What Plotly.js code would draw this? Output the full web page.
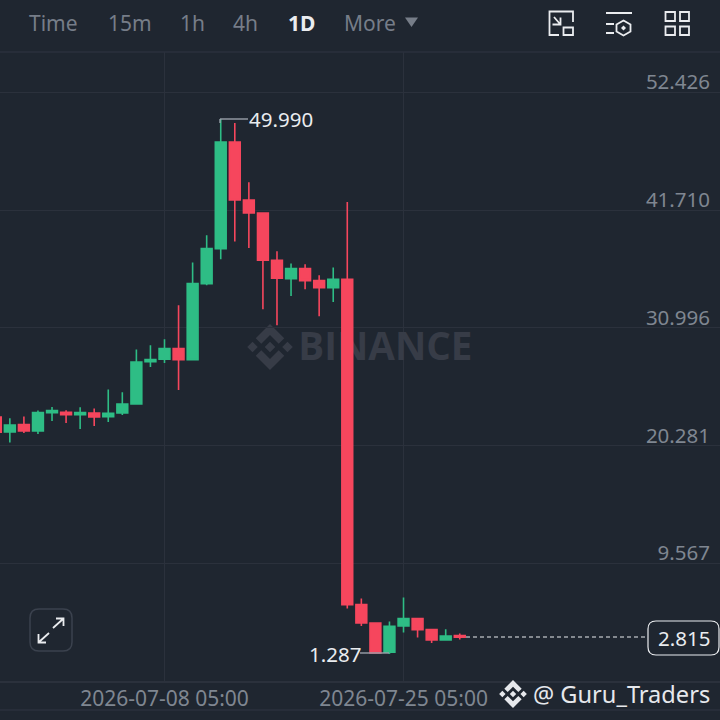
<!DOCTYPE html>
<html>
<head>
<meta charset="utf-8">
<script src="https://cdn.plot.ly/plotly-3.0.1.min.js"></script>
<style>html,body{margin:0;padding:0;background:#1f2630}#c{width:720px;height:720px}</style>
</head>
<body>
<div id="c"></div>
<script>
const dates = ["2026-06-26","2026-06-27","2026-06-28","2026-06-29","2026-06-30","2026-07-01","2026-07-02","2026-07-03","2026-07-04","2026-07-05","2026-07-06","2026-07-07","2026-07-08","2026-07-09","2026-07-10","2026-07-11","2026-07-12","2026-07-13","2026-07-14","2026-07-15","2026-07-16","2026-07-17","2026-07-18","2026-07-19","2026-07-20","2026-07-21","2026-07-22","2026-07-23","2026-07-24","2026-07-25","2026-07-26","2026-07-27","2026-07-28","2026-07-29"];
const opens = [22.868,21.503,22.177,21.594,23.269,23.296,23.087,23.233,22.905,23.233,24.052,27.911,28.121,29.095,28.093,35.012,38.198,47.902,42.622,41.439,37.133,35.467,36.377,35.285,34.648,35.403,5.791,4.116,1.449,3.843,4.517,3.515,2.569,2.969];
const highs = [22.95,22.75,22.905,23.451,23.779,23.478,23.752,23.633,25.363,25.117,29.004,29.395,29.942,33.037,36.924,39.409,49.99,49.631,44.233,41.502,37.952,36.832,36.769,35.768,36.468,42.44,6.337,4.17,4.243,6.429,4.55,3.57,3.543,3.151];
const lows = [21.4,20.538,21.412,21.321,22.504,22.322,21.776,22.049,22.413,23.05,24.025,27.42,27.784,25.326,28.03,34.857,37.224,38.835,38.253,32.672,31.216,33.883,34.493,32.035,33.337,5.427,3.843,1.33,1.287,3.242,2.787,2.296,2.54,2.606];
const closes = [21.476,22.14,21.594,23.269,23.451,23.087,23.269,22.868,23.205,24.052,27.875,28.093,29.095,28.093,35.012,38.198,47.902,42.622,41.439,37.133,35.494,36.377,35.285,34.648,35.403,5.791,4.116,1.386,3.816,4.517,3.515,2.569,2.933,2.815];
const priceTicks = [52.426,41.710,30.996,20.281,9.567];
const priceLabels = ["52.426","41.710","30.996","20.281","9.567"];
const dateTicks = ["2026-07-08 05:00","2026-07-25 05:00"];
const menu = [["Time",28],["15m",107],["1h",179],["4h",232],["More",343]];
const lastPrice = 2.815, highPrice = 49.990, lowPrice = 1.287;

const W=720, TOP=52, BOT=681;
const DAY=86400000, PXDAY=14.06;
const t0=Date.UTC(2026,6,8,5);
const iso=t=>new Date(t).toISOString().slice(0,19).replace('T',' ');
const xRange=[iso(t0-164.5/PXDAY*DAY),iso(t0+(720-164.5)/PXDAY*DAY)];
const yRange=[-1.165,56.093];
const BG='#1f2630', GRID='#2b313c', GREY='#7f8691', WHITE='#eaecef';
const FONT='"Noto Sans", sans-serif';
const px=x=>x/W, py=y=>(BOT-y)/(BOT-TOP);
const conv=s=>s.replace(/(-?[\d.]+) (-?[\d.]+)/g,(m,a,b)=>px(+a).toFixed(5)+' '+py(+b).toFixed(5));
const pshape=(d,opt)=>Object.assign({type:'path',xref:'paper',yref:'paper',path:conv(d),line:{width:0},layer:'above'},opt||{});
const stroke=(d,c,w)=>pshape(d,{line:{color:c,width:w}});
const fill=(d,c,layer)=>pshape(d,{fillcolor:c,layer:layer||'above'});
function rrect(x0,y0,x1,y1,r){return `M ${x0+r} ${y0} L ${x1-r} ${y0} Q ${x1} ${y0} ${x1} ${y0+r} L ${x1} ${y1-r} Q ${x1} ${y1} ${x1-r} ${y1} L ${x0+r} ${y1} Q ${x0} ${y1} ${x0} ${y1-r} L ${x0} ${y0+r} Q ${x0} ${y0} ${x0+r} ${y0} Z`;}
function logo(cx,cy,r){
  const p=a=>'M '+a.map(q=>(cx+q[0]*r)+' '+(cy+q[1]*r)).join(' L ')+' Z ';
  const d=(x,h)=>p([[x,-h],[x+h,0],[x,h],[x-h,0]]);
  return d(0,.23)+d(-.76,.23)+d(.76,.23)
   +p([[0,-1],[.62,-.38],[.38,-.14],[0,-.52],[-.38,-.14],[-.62,-.38]])
   +p([[0,1],[.62,.38],[.38,.14],[0,.52],[-.38,.14],[-.62,.38]]);
}
const lab=(text,x,y,size,color,anchor,extra)=>Object.assign({text,xref:'paper',yref:'paper',x:px(x),y:py(y),xanchor:anchor||'left',yanchor:'middle',showarrow:false,font:{family:FONT,size,color},borderpad:0},extra||{});

const shapes=[
  {type:'line',xref:'paper',yref:'paper',x0:0,x1:1,y0:py(TOP),y1:py(TOP),line:{color:GRID,width:1.5}},
  {type:'line',xref:'paper',yref:'paper',x0:0,x1:1,y0:py(710),y1:py(710),line:{color:GRID,width:1.5}},
  fill(logo(270,347,23),'#373c47','below'),
  stroke('M 220 119 L 248 119','#9aa0aa',1.4),
  stroke('M 220 119 L 220 123','#9aa0aa',1.4),
  stroke('M 360 653 L 389 653','#9aa0aa',1.4),
  {type:'line',xref:'paper',yref:'paper',x0:px(466),x1:px(648),y0:py(637),y1:py(637),line:{color:'#eaecef',width:1,dash:'4px 3px'}},
  pshape(rrect(648,621,719,655,8),{fillcolor:BG,line:{color:'#eaecef',width:1.2}}),
  pshape(rrect(30,609,72,651,9),{line:{color:'#3b424e',width:1.5}}),
  stroke('M 53 628 L 63 619 M 56 618.5 L 63.5 618.5 L 63.5 626','#eaecef',1.8),
  stroke('M 49 633 L 39 642 M 38.5 634 L 38.5 642.5 L 46 642.5','#eaecef',1.8),
  fill('M 405 17.5 L 418 17.5 L 411.5 27 Z','#767d88'),
  stroke('M 573 22 L 573 11.5 L 549.5 11.5 L 549.5 35 L 559 35','#eaecef',1.8),
  stroke('M 563.5 27.5 L 573 27.5 L 573 35 L 563.5 35 Z','#eaecef',1.8),
  stroke('M 554 17 L 560 24 M 552.5 24.5 L 560.5 24.5 L 560.5 17.5','#eaecef',1.8),
  stroke('M 606 13 L 632 13 M 606 24 L 614 24 M 606 33 L 614 33','#eaecef',1.8),
  stroke('M 623.5 20.5 L 630.5 24.5 L 630.5 31.5 L 623.5 35.5 L 616.5 31.5 L 616.5 24.5 Z','#eaecef',1.8),
  fill('M 623.5 25.5 L 626 28 L 623.5 30.5 L 621 28 Z','#eaecef'),
  stroke('M 665.5 12 L 675 12 L 675 21 L 665.5 21 Z M 680 12 L 689 12 L 689 21 L 680 21 Z M 665.5 26.5 L 675 26.5 L 675 35 L 665.5 35 Z M 680 26.5 L 689 26.5 L 689 35 L 680 35 Z','#eaecef',1.8),
  fill(logo(513,694,14),'#e6e8ec'),
];
const annotations=[
  ...menu.map(m=>lab(m[0],m[1],23,21,'#767d88','left')),
  lab('<b>1D</b>',287,23,21,WHITE,'left'),
  lab(highPrice.toFixed(3),248,119,20.5,WHITE,'left'),
  lab(lowPrice.toFixed(3),308,654,20.5,WHITE,'left'),
  lab(lastPrice.toFixed(3),684,637.5,20.5,WHITE,'center'),
  lab('@ Guru_Traders',532,694,23.6,'#e6e8ec','left'),
];
const data=[
  {type:'scatter',mode:'text',x:['2026-07-23 22:00'],y:[28.9],text:['<b>BINANCE</b>'],textposition:'middle center',
   textfont:{family:'"Open Sans", sans-serif',size:38.6,color:'#373c47'},hoverinfo:'skip',showlegend:false,xaxis:'x',yaxis:'y'},
  {type:'candlestick',x:dates.map(d=>d+' 05:00'),open:opens,high:highs,low:lows,close:closes,xaxis:'x',yaxis:'y2',
   increasing:{line:{color:'#2ebd85',width:1.6},fillcolor:'#2ebd85'},
   decreasing:{line:{color:'#f6465d',width:1.6},fillcolor:'#f6465d'},whiskerwidth:0,showlegend:false}
];
const layout={
  width:720,height:720,paper_bgcolor:BG,plot_bgcolor:BG,showlegend:false,
  margin:{l:0,r:0,t:TOP,b:720-BOT,pad:0},boxgap:0.23,boxgroupgap:0,
  font:{family:FONT},
  xaxis:{type:'date',range:xRange,tickmode:'array',tickvals:dateTicks,ticktext:dateTicks.map(s=>s),
    tickfont:{family:FONT,size:21,color:GREY},showgrid:true,gridcolor:GRID,gridwidth:1,ticks:'',showline:true,linecolor:GRID,linewidth:1.5,zeroline:false,rangeslider:{visible:false},fixedrange:true,ticklabelstandoff:-2},
  yaxis:{range:yRange,side:'right',tickmode:'array',tickvals:priceTicks,ticktext:priceLabels,ticklabelposition:'inside',ticklabelshift:-10,ticklabelstandoff:7,
    tickfont:{family:FONT,size:20.5,color:GREY},showgrid:true,gridcolor:GRID,gridwidth:1,ticks:'',zeroline:false,showline:false,fixedrange:true},
  yaxis2:{range:yRange,overlaying:'y',side:'right',visible:false,showgrid:false,zeroline:false,fixedrange:true},
  shapes,annotations
};
Plotly.newPlot('c',data,layout,{displayModeBar:false,staticPlot:true});
</script>
</body>
</html>
